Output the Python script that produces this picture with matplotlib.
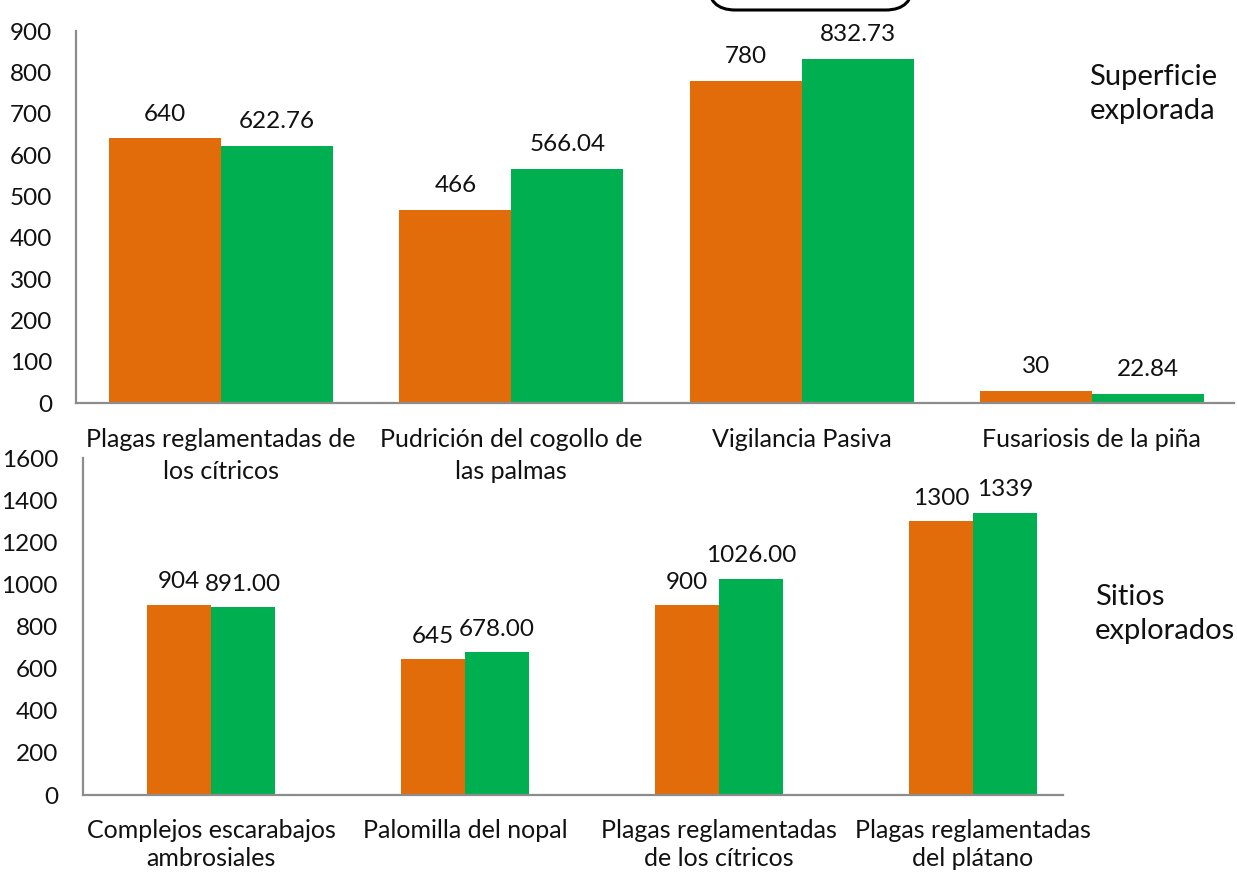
import matplotlib
matplotlib.use("Agg")
import matplotlib.pyplot as plt
from matplotlib.patches import FancyBboxPatch
import numpy as np

plt.rcParams['font.family'] = ['Lato', 'DejaVu Sans']

# ---- data ----
top_categories = ["Plagas reglamentadas de\nlos cítricos", "Pudrición del cogollo de\nlas palmas",
                  "Vigilancia Pasiva", "Fusariosis de la piña"]
top_orange = [640, 466, 780, 30]
top_green = [622.76, 566.04, 832.73, 22.84]
top_orange_dec = [0, 0, 0, 0]
top_green_dec = [2, 2, 2, 2]
top_yticks = [0, 100, 200, 300, 400, 500, 600, 700, 800, 900]

bot_categories = ["Complejos escarabajos\nambrosiales", "Palomilla del nopal",
                  "Plagas reglamentadas\nde los cítricos", "Plagas reglamentadas\ndel plátano"]
bot_orange = [904, 645, 900, 1300]
bot_green = [891.00, 678.00, 1026.00, 1339]
bot_orange_dec = [0, 0, 0, 0]
bot_green_dec = [2, 2, 2, 0]
bot_yticks = [0, 200, 400, 600, 800, 1000, 1200, 1400, 1600]

top_title = "Superficie\nexplorada"
bot_title = "Sitios\nexplorados"

ORANGE = "#E36C0A"
GREEN = "#00B050"
SPINE = "#8C8C8C"
TXT = "#111111"

W, H = 1237, 872
fig = plt.figure(figsize=(W / 100, H / 100), dpi=100)


def px_axes(left, right, top, bottom):
    return fig.add_axes([left / W, 1 - bottom / H, (right - left) / W, (bottom - top) / H])


def style(ax, ylim, yticks, xlim, cats, ypad, xpad, lsp):
    ax.set_xlim(*xlim)
    ax.set_ylim(*ylim)
    ax.set_yticks(yticks)
    ax.set_yticklabels([str(v) for v in yticks], fontsize=17.5, color=TXT)
    ax.set_xticks(np.arange(len(cats)))
    ax.set_xticklabels(cats, fontsize=18, color=TXT, linespacing=lsp)
    ax.tick_params(axis='both', length=0)
    ax.tick_params(axis='x', pad=xpad)
    ax.tick_params(axis='y', pad=ypad)
    for s in ['top', 'right']:
        ax.spines[s].set_visible(False)
    for s in ['left', 'bottom']:
        ax.spines[s].set_color(SPINE)
        ax.spines[s].set_linewidth(1.6)
    ax.set_facecolor('none')


def bars(ax, orange, green, odec, gdec, width, offset_pts):
    x = np.arange(len(orange))
    b1 = ax.bar(x - width / 2, orange, width, color=ORANGE, edgecolor='none')
    b2 = ax.bar(x + width / 2, green, width, color=GREEN, edgecolor='none')
    ax.bar_label(b1, labels=[f"{v:.{d}f}" for v, d in zip(orange, odec)], padding=offset_pts,
                 fontsize=17.5, color=TXT)
    ax.bar_label(b2, labels=[f"{v:.{d}f}" for v, d in zip(green, gdec)], padding=offset_pts,
                 fontsize=17.5, color=TXT)


# top chart
ax1 = px_axes(76, 1234, 31, 403)
style(ax1, (0, 900), top_yticks, (-0.5, 3.49), top_categories, 17, 18, 1.45)
bars(ax1, top_orange, top_green, top_orange_dec, top_green_dec, 0.386, 10)

# bottom chart
ax2 = px_axes(83, 1063, 458, 795)
style(ax2, (0, 1600), bot_yticks, (-0.504, 3.354), bot_categories, 18, 17, 1.28)
bars(ax2, bot_orange, bot_green, bot_orange_dec, bot_green_dec, 0.252, 9)

fig.text(1153 / W, 1 - 94 / H, top_title, fontsize=21, color=TXT, ha='center', va='center',
         linespacing=1.4)
fig.text(1095 / W, 1 - 614 / H, bot_title, fontsize=21, color=TXT, ha='left', va='center',
         linespacing=1.4)

# partially visible rounded box at the top
box = FancyBboxPatch((708 / W, 1 - 10 / H), (913 - 708) / W, 40 / H,
                     boxstyle="round,pad=0,rounding_size=0.022",
                     transform=fig.transFigure, facecolor='white', edgecolor='black',
                     linewidth=2.2, clip_on=False, mutation_aspect=W / H)
fig.patches.append(box)

fig.savefig("out.png", dpi=100, facecolor='white')
